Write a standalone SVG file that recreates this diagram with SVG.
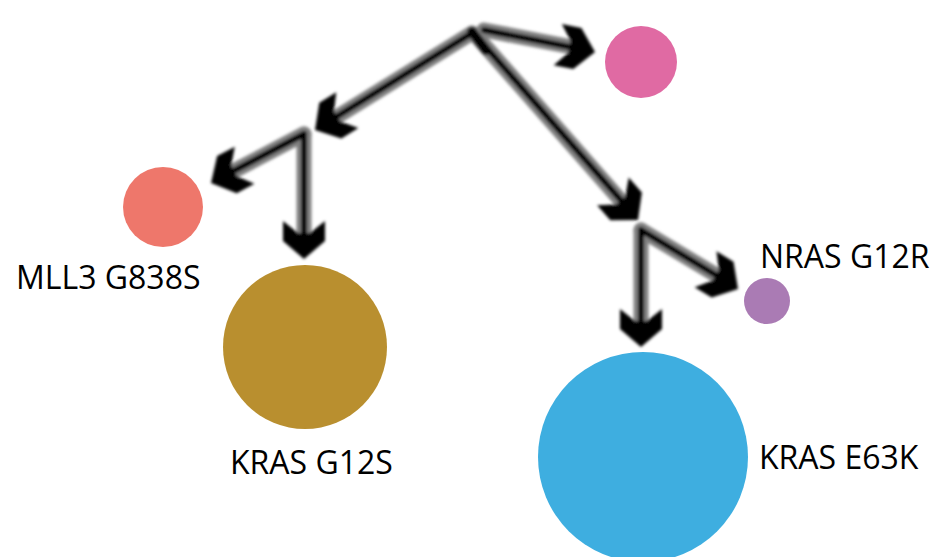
<svg xmlns="http://www.w3.org/2000/svg" xmlns:xlink="http://www.w3.org/1999/xlink" width="935" height="557" viewBox="0 0 935 557">
  <style>
    .label { font-family: "Open Sans", "Liberation Sans", sans-serif; font-size: 32px; fill: #000; }
    .tube { fill: none; stroke: #808080; stroke-width: 15; stroke-linecap: round; }
    .core { fill: none; stroke: #000; stroke-width: 6; stroke-linecap: round; }
  </style>
  <defs>
    <filter id="soft" x="-20%" y="-20%" width="140%" height="140%">
      <feGaussianBlur stdDeviation="1.6"/>
    </filter>
    <!-- chunky chevron arrowhead, tip at origin, pointing along +x -->
    <polygon id="head" points="0,0 -18,-21 -38,-21 -26,-6 -26,6 -38,21 -18,21" fill="#000"/>
  </defs>
  <rect width="935" height="557" fill="#fff"/>

  <!-- connectors -->
  <g id="connectors" filter="url(#soft)">
    <g class="shafts">
      <path class="tube" d="M484,30 L572,47"/>
      <path class="tube" d="M472,33 L335,118"/>
      <path class="tube" d="M478,38 L622,202"/>
      <path class="tube" d="M304,134 L230,173"/>
      <path class="tube" d="M304,134 L304,234"/>
      <path class="tube" d="M641,230 L641,322"/>
      <path class="tube" d="M641,230 L716,275"/>
    </g>
    <g class="cores">
      <path class="core" d="M484,30 L580,49"/>
      <path class="core" d="M472,33 L328,122"/>
      <path class="core" d="M478,38 L626,206"/>
      <path class="core" d="M304,134 L224,176"/>
      <path class="core" d="M304,134 L304,240"/>
      <path class="core" d="M641,230 L641,330"/>
      <path class="core" d="M641,230 L724,280"/>
    </g>
    <g class="heads">
      <use xlink:href="#head" transform="translate(595,52) rotate(11.2)"/>
      <use xlink:href="#head" transform="translate(315,130) rotate(148.3)"/>
      <use xlink:href="#head" transform="translate(638,220) rotate(48.7)"/>
      <use xlink:href="#head" transform="translate(211,183) rotate(152.2)"/>
      <use xlink:href="#head" transform="translate(304,259) rotate(90)"/>
      <use xlink:href="#head" transform="translate(641,347) rotate(90)"/>
      <use xlink:href="#head" transform="translate(738,289) rotate(31.3)"/>
    </g>
    <path d="M472,32 L486,50" stroke="#000" stroke-width="10" stroke-linecap="round"/>
  </g>

  <!-- nodes -->
  <g id="node-pink">
    <circle cx="641" cy="62" r="36" fill="#e06aa3"/>
  </g>
  <g id="node-mll3">
    <circle cx="163" cy="207" r="40" fill="#ee776b"/>
    <text class="label" x="16" y="289">MLL3 G838S</text>
  </g>
  <g id="node-kras-g12s">
    <circle cx="305" cy="347" r="82" fill="#b98f2f"/>
    <text class="label" x="230" y="474">KRAS G12S</text>
  </g>
  <g id="node-nras-g12r">
    <circle cx="767" cy="301" r="23" fill="#aa7bb4"/>
    <text class="label" x="760" y="268">NRAS G12R</text>
  </g>
  <g id="node-kras-e63k">
    <circle cx="643" cy="457" r="105" fill="#3eaee0"/>
    <text class="label" x="759" y="469">KRAS E63K</text>
  </g>
</svg>
